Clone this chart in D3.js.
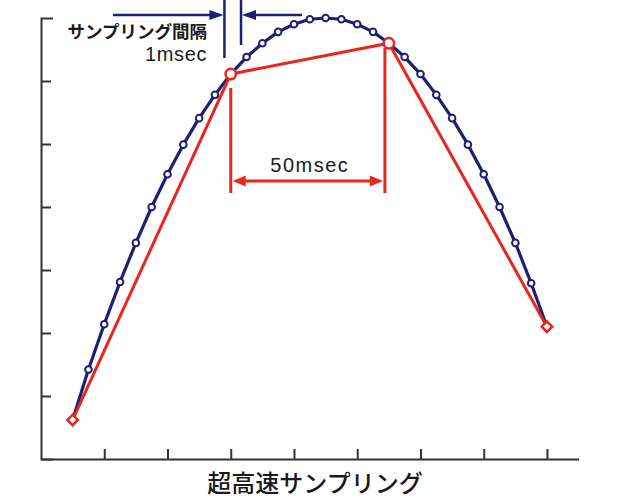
<!DOCTYPE html>
<html>
<head>
<meta charset="utf-8">
<script src="https://cdn.jsdelivr.net/npm/d3@7"></script>
<style>
  html, body { margin: 0; padding: 0; background: #fff; }
  svg { display: block; }
</style>
</head>
<body>
<div id="chart"></div>
<script>
// ---- Data ----
const sampleTimes = [2,3,4,5,6,7,8,9,10,11,12,13,14,15,16,17,18,19,20,21,22,23,24,25,26,27,28,29,30,31,32];
const sampleValues = [0.62,1.42,2.14,2.81,3.43,4.00,4.52,4.99,5.41,5.78,6.11,6.38,6.60,6.78,6.90,6.98,7.00,6.98,6.90,6.78,6.60,6.38,6.11,5.78,5.41,4.99,4.52,4.00,3.43,2.79,2.10];
const coarseTimes = [2,12,22,32];
const coarseValues = [0.62,6.11,6.60,2.10];
const coarseShapes = ["diamond","circle","circle","diamond"];
const yTickValues = [1,2,3,4,5,6];
const xTickValues = [4,8,12,16,20,24,28,32];
const xAxisTitle = "超高速サンプリング";
const fineLabel = "サンプリング間隔";
const fineInterval = "1msec";
const coarseInterval = "50msec";

// ---- Layout ----
const W = 619, H = 500;
const navy = "#1d1f73", red = "#e8261d", axisColor = "#333";

const svg = d3.select("#chart").append("svg").attr("width", W).attr("height", H);

const x = d3.scaleLinear().domain([0, 34]).range([41, 578.6]);
const y = d3.scaleLinear().domain([0, 7]).range([459, 18]);

// Axes
const yAxis = d3.axisRight(y).tickValues(yTickValues).tickSize(10).tickSizeOuter(12).tickFormat("");
const gy = svg.append("g").attr("transform", `translate(${x(0)},0)`).call(yAxis);
const xAxis = d3.axisTop(x).tickValues(xTickValues).tickSize(10).tickSizeOuter(0).tickFormat("");
const gx = svg.append("g").attr("transform", `translate(0,${y(0)})`).call(xAxis);
[gy, gx].forEach(g => {
  g.selectAll("path.domain").attr("stroke", axisColor).attr("stroke-width", 2);
  g.selectAll(".tick line").attr("stroke", axisColor).attr("stroke-width", 2);
});

// Blue (fine) line
const fine = sampleTimes.map((t, i) => ({ t, v: sampleValues[i] }));
const line = d3.line().x(d => x(d.t)).y(d => y(d.v));
svg.append("path").datum(fine).attr("d", line)
  .attr("fill", "none").attr("stroke", navy).attr("stroke-width", 3.2).attr("stroke-linejoin", "round");
svg.selectAll("circle.fine").data(fine).enter().append("circle").attr("class", "fine")
  .attr("cx", d => x(d.t)).attr("cy", d => y(d.v)).attr("r", 3.3)
  .attr("fill", "#fff").attr("stroke", navy).attr("stroke-width", 2);

// Red (coarse) line
const coarse = coarseTimes.map((t, i) => ({ t, v: coarseValues[i], s: coarseShapes[i] }));
svg.append("path").datum(coarse).attr("d", line)
  .attr("fill", "none").attr("stroke", red).attr("stroke-width", 3).attr("stroke-linejoin", "miter");
svg.selectAll("path.coarse").data(coarse).enter().append("path").attr("class", "coarse")
  .attr("d", d => d.s === "diamond"
      ? d3.symbol().type(d3.symbolDiamond2 || d3.symbolSquare).size(70)()
      : d3.symbol().type(d3.symbolCircle).size(85)())
  .attr("transform", d => `translate(${x(d.t)},${y(d.v)})` + (d.s === "diamond" && !d3.symbolDiamond2 ? " rotate(45)" : ""))
  .attr("fill", "#fff").attr("stroke", red).attr("stroke-width", 2.5);

// ---- Annotation: sampling interval (navy) ----
const ann = svg.append("g");
const xL = x(11.6), xR = x(12.65), yA = 15;
ann.append("line").attr("x1", xL).attr("x2", xL).attr("y1", 0).attr("y2", 58).attr("stroke", navy).attr("stroke-width", 2.5);
ann.append("line").attr("x1", xR).attr("x2", xR).attr("y1", 0).attr("y2", 45).attr("stroke", navy).attr("stroke-width", 2.5);
ann.append("line").attr("x1", 113).attr("x2", xL - 4).attr("y1", yA).attr("y2", yA).attr("stroke", navy).attr("stroke-width", 2.5);
ann.append("line").attr("x1", xR + 4).attr("x2", 302).attr("y1", yA).attr("y2", yA).attr("stroke", navy).attr("stroke-width", 2.5);
ann.append("path").attr("d", `M${xL - 1},${yA} L${xL - 15},${yA - 5} L${xL - 15},${yA + 5} Z`).attr("fill", navy);
ann.append("path").attr("d", `M${xR + 1},${yA} L${xR + 15},${yA - 5} L${xR + 15},${yA + 5} Z`).attr("fill", navy);
ann.append("text").attr("x", 207).attr("y", 38).attr("text-anchor", "end")
  .attr("font-family", "'Noto Sans CJK JP', sans-serif").attr("font-weight", 700).attr("font-size", 17.5)
  .attr("fill", "#1a1a1a").text(fineLabel);
ann.append("text").attr("x", 207).attr("y", 61).attr("text-anchor", "end")
  .attr("font-family", "'Liberation Sans', Arial, sans-serif").attr("font-size", 20).attr("letter-spacing", 0.6)
  .attr("fill", "#1a1a1a").text(fineInterval);

// ---- Annotation: 50 msec (red) ----
const x1 = x(12), x2 = x(21.75), yD = 181;
ann.append("line").attr("x1", x1).attr("x2", x1).attr("y1", 88).attr("y2", 193).attr("stroke", red).attr("stroke-width", 3);
ann.append("line").attr("x1", x2).attr("x2", x2).attr("y1", 48).attr("y2", 193).attr("stroke", red).attr("stroke-width", 3);
ann.append("line").attr("x1", x1 + 6).attr("x2", x2 - 6).attr("y1", yD).attr("y2", yD).attr("stroke", red).attr("stroke-width", 3);
ann.append("path").attr("d", `M${x1 + 2},${yD} L${x1 + 15},${yD - 5.5} L${x1 + 15},${yD + 5.5} Z`).attr("fill", red);
ann.append("path").attr("d", `M${x2 - 2},${yD} L${x2 - 15},${yD - 5.5} L${x2 - 15},${yD + 5.5} Z`).attr("fill", red);
ann.append("text").attr("x", (x1 + x2) / 2 + 2).attr("y", 172).attr("text-anchor", "middle")
  .attr("font-family", "'Liberation Sans', Arial, sans-serif").attr("font-size", 20).attr("letter-spacing", 1.5)
  .attr("fill", "#1a1a1a").text(coarseInterval);

// X axis title
svg.append("text").attr("x", 315).attr("y", 492).attr("text-anchor", "middle")
  .attr("font-family", "'Noto Sans CJK JP', sans-serif").attr("font-weight", 500).attr("font-size", 24)
  .attr("fill", "#1a1a1a").text(xAxisTitle);
</script>
</body>
</html>
